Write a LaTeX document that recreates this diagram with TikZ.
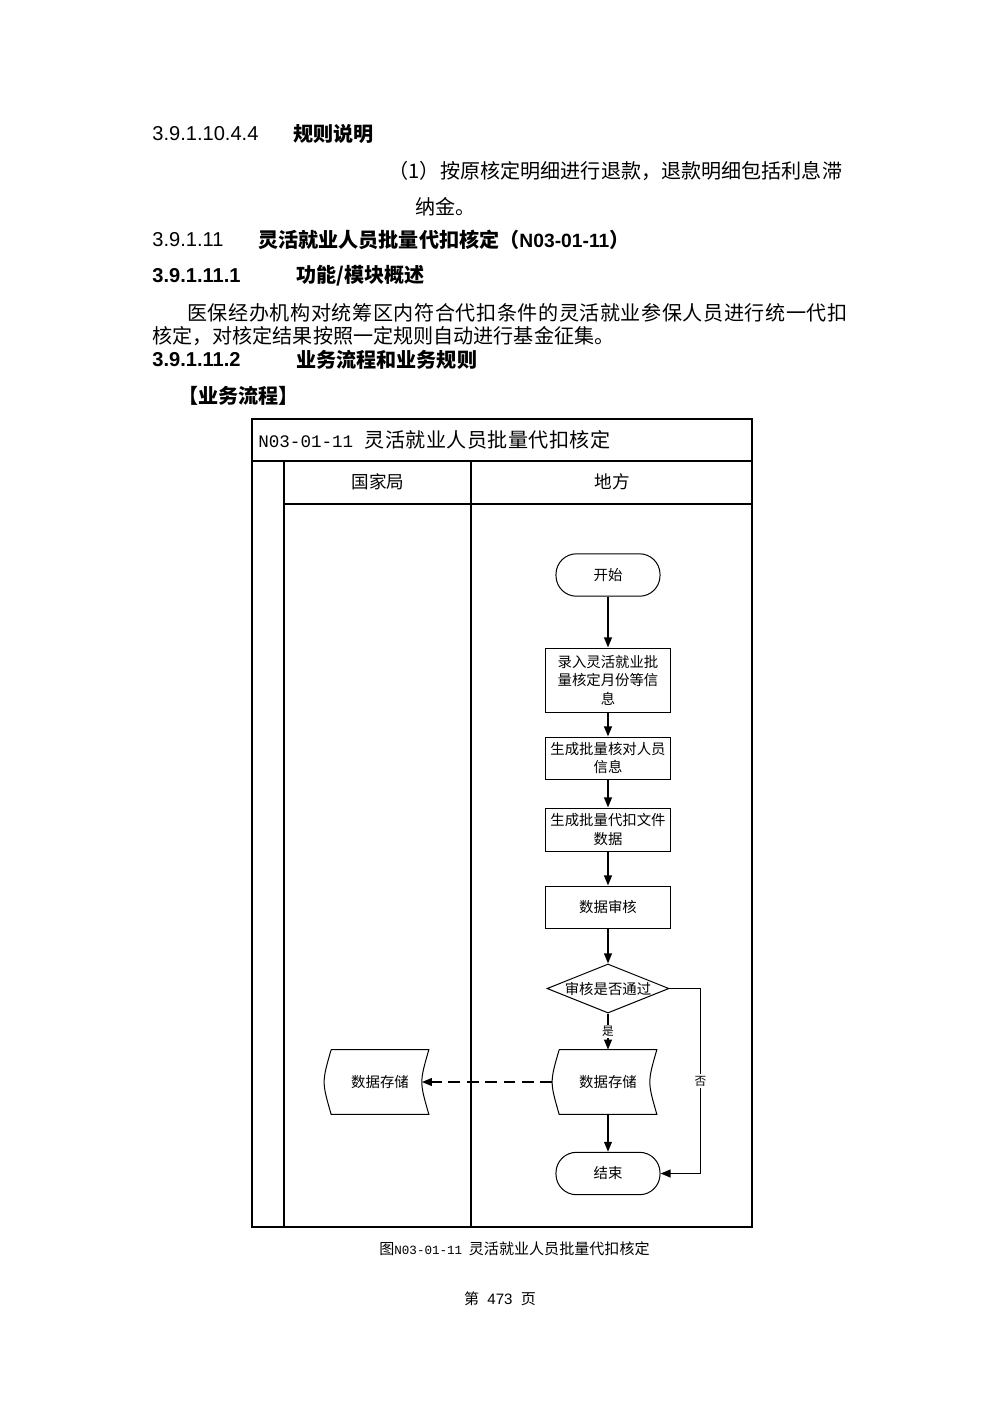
\documentclass[tikz,border=0pt]{standalone}
\usepackage{fontspec}
\setmainfont{Liberation Sans}
\setmonofont{Liberation Mono}
\newfontfamily\cjk{Noto Sans CJK SC}
\usetikzlibrary{shapes.geometric}
\usetikzlibrary{arrows.meta}

\begin{document}
\begin{tikzpicture}[x=0.021cm, y=-0.021cm,
  txt/.style={anchor=west, inner sep=0pt, font=\cjk\fontsize{12}{14}\selectfont},
  proc/.style={rectangle, draw, line width=0.6pt, minimum width=2.604cm, inner sep=0pt,
               align=center, font=\cjk\fontsize{8.6}{11}\selectfont},
  term/.style={proc, rounded corners=0.43cm, minimum width=2.184cm, minimum height=0.89cm},
  decision/.style={diamond, draw, line width=0.6pt, aspect=2.5, inner sep=0pt,
               minimum width=2.56cm, minimum height=1.03cm, font=\cjk\fontsize{8.6}{11}\selectfont},
  store/.style={rectangle, inner sep=0pt, minimum width=2.037cm, minimum height=1.344cm,
               font=\cjk\fontsize{8.6}{11}\selectfont},
  lbl/.style={fill=white, inner sep=1pt, font=\cjk\fontsize{7}{8}\selectfont},
  flow/.style={-{Triangle[length=6pt,width=4.6pt]}, line width=1.1pt},
  lane/.style={line width=0.8pt}]

\useasboundingbox (0,0) rectangle (1000,1415);

% text above the chart
\node[txt, font=\fontsize{12}{14}\selectfont] (h1num) at (152,134) {3.9.1.10.4.4};
\node[txt, font=\cjk\bfseries\fontsize{12}{14}\selectfont] (h1) at (293,134) {规则说明};
\node[txt] (item1) at (388,171) {（1）};
\node[txt] (item1a) at (440,171) {按原核定明细进行退款，退款明细包括利息滞};
\node[txt] (item1b) at (415,207) {纳金。};
\node[txt, font=\fontsize{12}{14}\selectfont] (h2num) at (152,240) {3.9.1.11};
\node[txt, font=\cjk\bfseries\fontsize{12}{14}\selectfont] (h2) at (258,240)
  {灵活就业人员批量代扣核定（{\rmfamily\fontsize{11.5}{13}\selectfont N03-01-11}）};
\node[txt, font=\bfseries\fontsize{12}{14}\selectfont] (h3num) at (152,276) {3.9.1.11.1};
\node[txt, font=\cjk\bfseries\fontsize{12}{14}\selectfont] (h3) at (296,276) {功能/模块概述};
\node[txt] (para1) at (187,313)
  {\addfontfeature{LetterSpace=2.8}医保经办机构对统筹区内符合代扣条件的灵活就业参保人员进行统一代扣};
\node[txt] (para2) at (152,336) {核定，对核定结果按照一定规则自动进行基金征集。};
\node[txt, font=\bfseries\fontsize{12}{14}\selectfont] (h4num) at (152,360) {3.9.1.11.2};
\node[txt, font=\cjk\bfseries\fontsize{12}{14}\selectfont] (h4) at (296,360) {业务流程和业务规则};
\node[txt, font=\cjk\bfseries\fontsize{12}{14}\selectfont] (h5) at (178,396) {【业务流程】};

% swimlane frame
\draw[lane] (252,419) rectangle (752,1227);
\draw[lane] (252,461) -- (752,461);
\draw[lane] (284,461) -- (284,1227);
\draw[lane] (284,504) -- (752,504);
\draw[lane] (471,461) -- (471,1227);
\node[txt] (chart) at (258,440)
  {{\ttfamily\fontsize{10.5}{12}\selectfont N03-01-11}\hspace{7pt}\addfontfeature{LetterSpace=2}灵活就业人员批量代扣核定};
\node[font=\cjk\fontsize{10.5}{12}\selectfont] (laneA) at (378,482) {国家局};
\node[font=\cjk\fontsize{10.5}{12}\selectfont] (laneB) at (612,482) {地方};

% steps
\node[term] (start) at (608,575) {开始};
\node[proc, minimum height=1.344cm] (enter) at (608,680) {录入灵活就业批\\量核定月份等信\\息};
\node[proc, minimum height=0.882cm] (persons) at (608,758) {生成批量核对人员\\信息};
\node[proc, minimum height=0.903cm] (file) at (608,829.5) {生成批量代扣文件\\数据};
\node[proc, minimum height=0.882cm] (review) at (608,907) {数据审核};
\node[decision] (check) at (608,988.5) {审核是否通过};
\node[store] (storeA) at (380,1082) {数据存储};
\node[store] (storeB) at (608,1082) {数据存储};
\node[term] (end) at (608,1173.5) {结束};

% stored data outlines
\foreach \s in {storeA,storeB} {
  \draw[line width=0.6pt] (\s.north west) -- (\s.north east)
    .. controls ([xshift=-0.196cm]\s.east) .. (\s.south east)
    -- (\s.south west)
    .. controls ([xshift=-0.196cm]\s.west) .. (\s.north west);
  \coordinate (\s-in) at ([xshift=-0.147cm]\s.west);
  \coordinate (\s-out) at ([xshift=-0.147cm]\s.east);
}

% connectors
\draw[flow] (start) -- (enter);
\draw[flow] (enter) -- (persons);
\draw[flow] (persons) -- (file);
\draw[flow] (file) -- (review);
\draw[flow] (review) -- (check);
\draw[flow] (check) -- node[lbl] {是} (storeB);
\draw[flow] (storeB) -- (end);
\draw[flow] (check.east) -- ++(31,0) |- node[lbl, pos=0.25] {否} (end.east);
\draw[flow, dash pattern=on 7pt off 4pt] (storeB-in) -- (storeA-out);

% caption and page number
\node[txt, font=\cjk\fontsize{9}{11}\selectfont] (caption) at (379,1249)
  {图{\ttfamily\fontsize{7.5}{9}\selectfont N03-01-11}\hspace{4pt}灵活就业人员批量代扣核定};
\node[font=\cjk\fontsize{9}{11}\selectfont] (page) at (500,1299)
  {第\hspace{5pt}{\rmfamily 473}\hspace{5pt}页};
\end{tikzpicture}
\end{document}
